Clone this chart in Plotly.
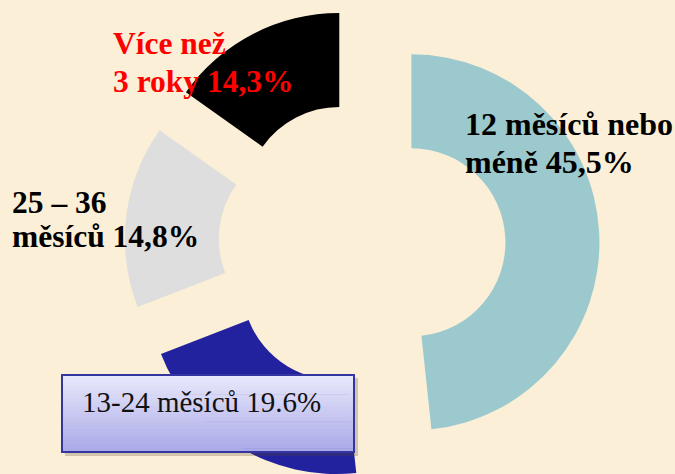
import math
import plotly.graph_objects as go

# ---- data ----
labels = ["12 měsíců nebo méně", "13-24 měsíců", "25 – 36 měsíců", "Více než 3 roky"]
values = [45.5, 19.6, 14.8, 14.3]
label_lines = [["12 měsíců nebo", "méně 45,5%"], ["13-24 měsíců 19.6%"],
               ["25 – 36", "měsíců 14,8%"], ["Více než", "3 roky 14,3%"]]

# ---- styles ----
colors = ["#9CC9CE", "#22229E", "#DEDEDE", "#000000"]
W, H = 675, 474
R = 188          # outer radius (px)
HOLE = 0.5
PULL = 49.5      # explode distance (px)
CX0, CY0 = 362, 245
BG = "#FBEFD7"

fig = go.Figure()
total = sum(values)
start = 0.0
for i, v in enumerate(values):
    span = v / total * 360.0
    mid = math.radians(start + span / 2)
    start += span
    cx = CX0 + PULL * math.sin(mid)
    cy = CY0 - PULL * math.cos(mid)
    x0, x1 = cx - R, cx + R
    yt, yb = cy - R, cy + R
    if yb > H:
        yt -= yb - H
        yb = H
    if yt < 0:
        yb -= yt
        yt = 0
    slice_colors = [colors[j] if j == i else "rgba(0,0,0,0)" for j in range(len(values))]
    fig.add_trace(go.Pie(
        labels=labels, values=values, sort=False, direction="clockwise", rotation=0,
        hole=HOLE, textinfo="none", hoverinfo="skip", showlegend=False,
        marker=dict(colors=slice_colors, line=dict(width=0)),
        domain=dict(x=[x0 / W, x1 / W], y=[1 - yb / H, 1 - yt / H]),
    ))

FONT = "Liberation Serif"

def px(x, y):
    return x / W, 1 - y / H

ann = []
# label placement: left x, baselines, colour, size
pos = {0: (463, [135, 173], "black", 32),
       2: (10, [214, 248], "black", 31.5),
       3: (111, [55, 93], "red", 31.5)}
for i, (x, bases, c, fs) in pos.items():
    for line, base in zip(label_lines[i], bases):
        ax, ay = px(x, base - 0.98 * fs)
        ann.append(dict(x=ax, y=ay, xref="paper", yref="paper", xanchor="left", yanchor="top",
                        text="<b>" + line + "</b>", showarrow=False, align="left",
                        font=dict(family=FONT, size=fs, color=c)))

# boxed label for 13-24
bx0, by0, bx1, by1 = 62, 375, 354, 452
shapes = []
shapes.append(dict(type="rect", xref="paper", yref="paper",
                   x0=(bx0 + 3) / W, x1=(bx1 + 4) / W, y0=1 - (by1 + 4) / H, y1=1 - (by0 + 3) / H,
                   fillcolor="rgba(90,70,40,0.25)", line=dict(width=0)))
n = 20
top_c = (233, 233, 251)
bot_c = (168, 168, 232)
for k in range(n):
    t = (k + 0.5) / n
    c = tuple(round(top_c[m] + (bot_c[m] - top_c[m]) * t) for m in range(3))
    ya = by0 + (by1 - by0) * k / n
    yb2 = by0 + (by1 - by0) * (k + 1) / n + 0.6
    shapes.append(dict(type="rect", xref="paper", yref="paper",
                       x0=bx0 / W, x1=bx1 / W, y0=1 - yb2 / H, y1=1 - ya / H,
                       fillcolor="rgb(%d,%d,%d)" % c, line=dict(width=0)))
shapes.append(dict(type="rect", xref="paper", yref="paper",
                   x0=bx0 / W, x1=bx1 / W, y0=1 - by1 / H, y1=1 - by0 / H,
                   fillcolor="rgba(0,0,0,0)", line=dict(color="#3535A2", width=2)))

ax, ay = px(80, 412 - 28.5)
ann.append(dict(x=ax, y=ay, xref="paper", yref="paper", xanchor="left", yanchor="top",
                text=label_lines[1][0], showarrow=False, align="left",
                font=dict(family=FONT, size=29, color="#111111")))

fig.update_layout(
    width=W, height=H,
    margin=dict(l=0, r=0, t=0, b=0),
    paper_bgcolor=BG, plot_bgcolor=BG,
    shapes=shapes, annotations=ann,
    showlegend=False,
)

fig.write_html("out.html", config={"displayModeBar": False},
               post_script="document.body.style.margin='0';document.body.style.background='%s';" % BG)
